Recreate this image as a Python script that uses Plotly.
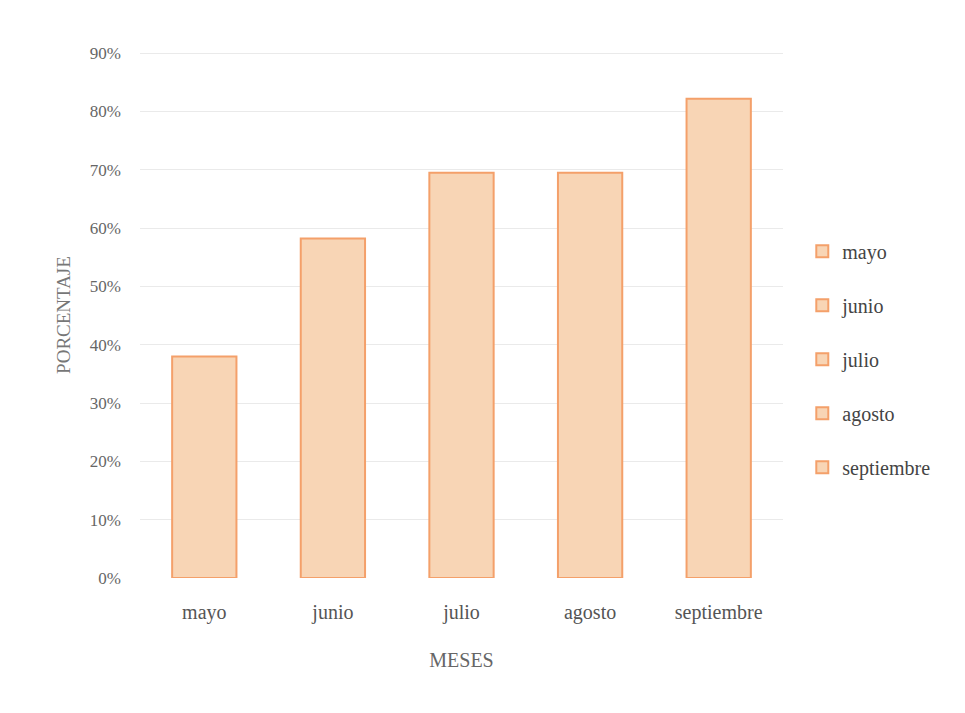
import plotly.graph_objects as go

# Monthly percentage values
meses = ["mayo", "junio", "julio", "agosto", "septiembre"]
porcentajes = [0.38, 0.582, 0.695, 0.695, 0.822]

fill_color = "#F8D5B5"
edge_color = "#F4A06A"
serif = "Liberation Serif, Times New Roman, serif"

fig = go.Figure()
for i, (mes, val) in enumerate(zip(meses, porcentajes)):
    fig.add_trace(go.Bar(
        x=[mes],
        y=[val],
        name=mes,
        legendgroup=f"g{i}",
        width=0.5,
        marker=dict(color=fill_color, line=dict(color=edge_color, width=2)),
    ))

fig.update_layout(
    width=965,
    height=713,
    paper_bgcolor="white",
    plot_bgcolor="white",
    margin=dict(l=140, r=182, t=52, b=135),
    barmode="overlay",
    font=dict(family=serif, color="#555555", size=19),
    showlegend=True,
    legend=dict(
        x=1.03, xanchor="left",
        y=0.416, yanchor="middle",
        font=dict(family=serif, size=20, color="#444444"),
        tracegroupgap=25,
        itemwidth=30,
        bgcolor="rgba(0,0,0,0)",
    ),
    xaxis=dict(
        categoryorder="array",
        categoryarray=meses,
        showgrid=False,
        showline=False,
        ticks="",
        ticklabelstandoff=20,
        tickfont=dict(family=serif, size=20, color="#555555"),
        title=dict(text="MESES", font=dict(family=serif, size=20, color="#666666"), standoff=29),
        automargin=False,
    ),
    yaxis=dict(
        range=[0, 0.902],
        dtick=0.1,
        tickformat=".0%",
        showgrid=True,
        gridcolor="#EAEAEA",
        gridwidth=1,
        zeroline=False,
        showline=False,
        ticks="",
        ticklabelstandoff=18,
        tickfont=dict(family=serif, size=17, color="#666666"),
        title=dict(text="PORCENTAJE", font=dict(family=serif, size=19, color="#777777"), standoff=14),
        automargin=False,
    ),
)

fig.write_html("out.html")
